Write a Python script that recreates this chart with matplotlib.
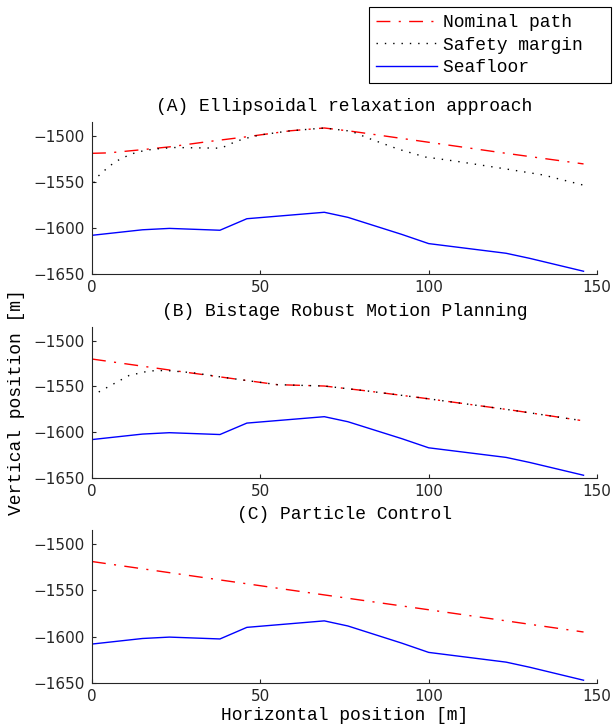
import numpy as np
import matplotlib
matplotlib.use('Agg')
import matplotlib.pyplot as plt

# seafloor profile (same in all panels)
floor_x = [0, 15, 23, 38, 46, 69, 76, 92, 100, 123, 130, 146]
floor_y = [-1608, -1602, -1600.5, -1602.5, -1590, -1583, -1588.5, -1607, -1617, -1627.5, -1633, -1647]

# (A) ellipsoidal relaxation
nom_a_x = [0, 5, 15, 23, 34, 46, 50, 59, 69, 77, 100, 123, 146]
nom_a_y = [-1519, -1518.5, -1515, -1512, -1506.5, -1501, -1499, -1494.5, -1491.5, -1495, -1507, -1519, -1530.5]
safe_a_x = [0.5, 1.9, 3.9, 6.3, 8.3, 11.1, 13.3, 15.7, 18.2, 24.2, 38, 40, 42, 45, 50, 59, 69, 77,
            82, 91, 99, 108, 123, 134, 147]
safe_a_y = [-1551, -1543.6, -1537, -1529.8, -1525.4, -1520.7, -1517.8, -1516, -1514.5, -1512.7,
            -1513.4, -1510.9, -1507.3, -1503.3, -1499, -1494.5, -1491.5, -1495, -1502.5, -1514.5,
            -1523, -1527.5, -1536, -1542.5, -1554.5]

# (B) bistage robust motion planning
nom_b_x = [0, 23, 39, 55, 69, 82, 98, 125, 145]
nom_b_y = [-1520, -1532, -1540, -1548, -1549.5, -1555, -1562.5, -1576, -1587]
safe_b_x = [2, 7, 11, 17, 22, 30, 39, 55, 69, 82, 98, 125, 145]
safe_b_y = [-1556, -1546, -1538, -1533, -1532.5, -1535, -1540, -1548, -1549.5, -1555, -1562.5, -1576, -1587]

# (C) particle control
nom_c_x = [0, 23, 46, 69, 100, 123, 146]
nom_c_y = [-1519, -1531, -1543, -1555, -1571, -1583, -1595]

titles = ['(A) Ellipsoidal relaxation approach',
          '(B) Bistage Robust Motion Planning',
          '(C) Particle Control']

mono = 'Liberation Mono'
W, H = 613, 726
fig = plt.figure(figsize=(W / 100, H / 100), dpi=100)

left = 92 / W
width = (597 - 92) / W
tops = [122, 327, 530]
bots = [274, 478, 683]

panels = [(nom_a_x, nom_a_y, safe_a_x, safe_a_y),
          (nom_b_x, nom_b_y, safe_b_x, safe_b_y),
          (nom_c_x, nom_c_y, None, None)]

axes = []
for i, (nx, ny, sx, sy) in enumerate(panels):
    ax = fig.add_axes([left, 1 - bots[i] / H, width, (bots[i] - tops[i]) / H])
    ax.plot(nx, ny, color='r', lw=1, linestyle=(0, (10, 6, 1.5, 6)), label='Nominal path  ')
    if sx is not None:
        ax.plot(sx, sy, color='k', lw=1, linestyle=(0, (1, 5)), label='Safety margin  ')
    ax.plot(floor_x, floor_y, color='b', lw=1, label='Seafloor  ')
    ax.set_xlim(0, 150)
    ax.set_ylim(-1650, -1485)
    ax.set_xticks([0, 50, 100, 150])
    ax.set_yticks([-1650, -1600, -1550, -1500])
    for s in ['top', 'right']:
        ax.spines[s].set_visible(False)
    for s in ['left', 'bottom']:
        ax.spines[s].set_color('#262626')
        ax.spines[s].set_linewidth(0.8)
    ax.tick_params(direction='in', length=3, width=0.8, color='#262626',
                   labelsize=11, labelcolor='#262626')
    ax.tick_params(axis='y', pad=5)
    ax.tick_params(axis='x', pad=4)
    ax.set_title(titles[i], family=mono, fontsize=13, pad=8)
    axes.append(ax)

fig.text(17 / W, 1 - 402 / H, 'Vertical position [m]', rotation=90, family=mono,
         fontsize=13, ha='center', va='center')
fig.text(344.5 / W, 1 - 716 / H, 'Horizontal position [m]', family=mono,
         fontsize=13, ha='center', va='center')

handles, labels = axes[0].get_legend_handles_labels()
leg = fig.legend(handles, labels, loc='upper right', bbox_to_anchor=(611 / W, 1 - 7 / H),
                 prop={'family': mono, 'size': 13}, fancybox=False, edgecolor='k',
                 framealpha=1, borderaxespad=0, handlelength=3.35, handletextpad=0.33,
                 labelspacing=0.3, borderpad=0.4)
leg.get_frame().set_linewidth(0.8)

fig.savefig('out.png', dpi=100)
